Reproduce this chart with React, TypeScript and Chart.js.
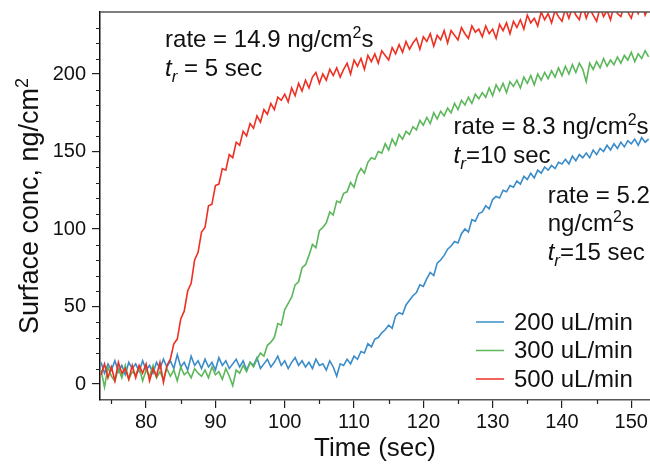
import React, { useEffect, useRef } from 'react';
import { Chart, registerables } from 'chart.js';

Chart.register(...registerables);

// ---- data ----
const T_START = 73.5;
const T_STEP = 0.5;
const SERIES_LABELS = ['200 uL/min', '300 uL/min', '500 uL/min'];
const X_TICKS = [80, 90, 100, 110, 120, 130, 140, 150];
const Y_TICKS = [0, 50, 100, 150, 200];
const X_MINOR = [75, 85, 95, 105, 115, 125, 135, 145];
const Y_MINOR = [10, 20, 30, 40, 60, 70, 80, 90, 110, 120, 130, 140, 160, 170, 180, 190, 210, 220, 230];

const BLUE_200 = [
  14, 7, 13, 9, 15, 8, 12, 6, 14, 10,
  13, 8, 15, 9, 12, 7, 14, 10, 16, 11,
  15, 10, 19, 11, 14, 9, 18, 12, 15, 10,
  16, 11, 14, 9, 17, 12, 15, 10, 13, 16,
  11, 15, 9, 14, 12, 17, 10, 13, 16, 11,
  14, 18, 12, 15, 10, 14, 17, 12, 15, 11,
  14, 10, 16, 12, 13, 9, 15, 11, 5, 13,
  12, 16, 13, 18, 16, 21, 20, 26, 24, 29,
  30, 33, 35, 38, 36, 44, 46, 45, 51, 54,
  57, 59, 64, 63, 68, 72, 70, 78, 80, 83,
  87, 89, 92, 91, 97, 100, 98, 106, 105, 110,
  111, 115, 113, 119, 121, 120, 125, 124, 128, 127,
  131, 129, 134, 132, 136, 133, 138, 136, 140, 138,
  141, 139, 143, 142, 145, 142, 147, 144, 148, 146,
  149, 146, 151, 148, 152, 150, 154, 151, 155, 152,
  156, 153, 157, 155, 158, 154, 159, 156, 158,
];

const GREEN_300 = [
  9, -2, 11, 5, 2, 10, 4, 12, 3, 8,
  6, 11, 2, 9, 5, 12, 4, 8, 3, 10,
  5, 9, 2, 11, 6, 8, 4, 10, 7, 5,
  9, 4, 11, 6, 8, 3, 10, 5, -1, 9,
  7, 12, 8, 14, 11, 16, 20, 18, 25, 27,
  30, 39, 38, 48, 52, 56, 64, 66, 75, 77,
  83, 90, 88, 99, 101, 104, 111, 109, 118, 117,
  123, 124, 130, 127, 135, 139, 136, 143, 146, 145,
  150, 149, 155, 151, 158, 154, 161, 158, 163, 161,
  166, 164, 170, 167, 172, 168, 175, 171, 176, 173,
  178, 175, 181, 177, 183, 180, 185, 181, 187, 184,
  188, 185, 191, 186, 193, 189, 194, 188, 195, 192,
  196, 191, 198, 194, 199, 193, 200, 196, 201, 197,
  202, 198, 204, 199, 205, 200, 206, 201, 207, 203,
  195, 207, 203, 208, 204, 210, 205, 209, 206, 211,
  207, 212, 209, 214, 208, 213, 210, 215, 211,
];

const RED_500 = [
  6, 13, 4, 11, 2, 14, 7, 10, 3, 12,
  4, 12, 7, 13, 2, 10, 5, 14, 1, 12,
  16, 26, 29, 42, 47, 60, 65, 80, 85, 98,
  101, 115, 116, 128, 129, 139, 138, 148, 146, 156,
  154, 163, 160, 168, 165, 173, 169, 177, 174, 181,
  177, 185, 183, 187, 182, 191, 186, 194, 189, 196,
  191, 198, 201, 194, 200, 196, 203, 199, 204, 198,
  203, 207, 200, 209, 205, 210, 203, 212, 208, 213,
  207, 215, 212, 209, 217, 213, 219, 214, 221, 216,
  220, 223, 216, 224, 221, 226, 218, 225, 222, 228,
  220, 228, 225, 222, 230, 226, 223, 231, 227, 229,
  224, 231, 226, 229, 223, 232, 228, 233, 226, 234,
  230, 235, 229, 238, 233, 236, 231, 240, 235, 239,
  233, 241, 237, 234, 242, 236, 243, 238, 235, 244,
  236, 242, 238, 234, 243, 237, 241, 235, 244, 239,
  237, 245, 240, 236, 244, 239, 246, 238, 243,
];

// ---- styling ----
const FONT = '"Liberation Sans", Arial, Helvetica, sans-serif';
const COLORS = ['#3a8cc9', '#5bb75a', '#ee3023'];
const X_MIN = 73.35;
const X_MAX = 152.7;
const Y_MIN = -10.3;
const Y_MAX = 240;

type Seg = { t: string; k?: 'i' | 'sup' | 'sub' };

const ANNOTATIONS: { x: number; y: number; lines: Seg[][] }[] = [
  {
    x: 82.74, y: 217.4,
    lines: [
      [{ t: 'rate = 14.9 ng/cm' }, { t: '2', k: 'sup' }, { t: 's' }],
      [{ t: 't', k: 'i' }, { t: 'r', k: 'sub' }, { t: ' = 5 sec' }],
    ],
  },
  {
    x: 124.36, y: 161,
    lines: [
      [{ t: 'rate = 8.3 ng/cm' }, { t: '2', k: 'sup' }, { t: 's' }],
      [{ t: 't', k: 'i' }, { t: 'r', k: 'sub' }, { t: '=10 sec' }],
    ],
  },
  {
    x: 137.94, y: 117.1,
    lines: [
      [{ t: 'rate = 5.2' }],
      [{ t: 'ng/cm' }, { t: '2', k: 'sup' }, { t: 's' }],
      [{ t: 't', k: 'i' }, { t: 'r', k: 'sub' }, { t: '=15 sec' }],
    ],
  },
];

function segFont(k: Seg['k'], size: number) {
  if (k === 'sup') return { font: `${Math.round(size * 0.68)}px ${FONT}`, dy: -size * 0.38 };
  if (k === 'sub') return { font: `italic ${Math.round(size * 0.7)}px ${FONT}`, dy: size * 0.25 };
  if (k === 'i') return { font: `italic ${size}px ${FONT}`, dy: 0 };
  return { font: `${size}px ${FONT}`, dy: 0 };
}

function richWidth(ctx: CanvasRenderingContext2D, segs: Seg[], size: number) {
  let w = 0;
  for (const s of segs) {
    ctx.font = segFont(s.k, size).font;
    w += ctx.measureText(s.t).width;
  }
  return w;
}

function drawRich(ctx: CanvasRenderingContext2D, segs: Seg[], x: number, y: number, size: number) {
  let cx = x;
  for (const s of segs) {
    const f = segFont(s.k, size);
    ctx.font = f.font;
    ctx.fillText(s.t, cx, y + f.dy);
    cx += ctx.measureText(s.t).width;
  }
}

const decorPlugin = {
  id: 'decor',
  afterDraw(chart: any) {
    const ctx: CanvasRenderingContext2D = chart.ctx;
    const area = chart.chartArea;
    const xs = chart.scales.x;
    const ys = chart.scales.y;
    ctx.save();
    // top border
    ctx.strokeStyle = '#555';
    ctx.lineWidth = 1.5;
    ctx.beginPath();
    ctx.moveTo(area.left, area.top);
    ctx.lineTo(area.right, area.top);
    ctx.stroke();
    // minor ticks
    ctx.strokeStyle = '#222';
    ctx.lineWidth = 1.2;
    ctx.beginPath();
    for (const v of X_MINOR) {
      const px = Math.round(xs.getPixelForValue(v)) + 0.5;
      ctx.moveTo(px, area.bottom);
      ctx.lineTo(px, area.bottom + 4);
    }
    for (const v of Y_MINOR) {
      const py = Math.round(ys.getPixelForValue(v)) + 0.5;
      ctx.moveTo(area.left, py);
      ctx.lineTo(area.left - 4, py);
    }
    ctx.stroke();

    // annotations
    ctx.fillStyle = '#111';
    ctx.textBaseline = 'alphabetic';
    ctx.textAlign = 'left';
    for (const a of ANNOTATIONS) {
      const px = xs.getPixelForValue(a.x);
      const py = ys.getPixelForValue(a.y);
      a.lines.forEach((line, i) => drawRich(ctx, line, px, py + i * 28.5, 24));
    }

    // legend
    const lx = area.right - 174;
    const ly = area.bottom - 78;
    SERIES_LABELS.forEach((lab, i) => {
      const y = ly + i * 28.5;
      ctx.strokeStyle = COLORS[i];
      ctx.lineWidth = 1.5;
      ctx.beginPath();
      ctx.moveTo(lx, y);
      ctx.lineTo(lx + 28, y);
      ctx.stroke();
      ctx.fillStyle = '#111';
      ctx.font = `24px ${FONT}`;
      ctx.textBaseline = 'middle';
      ctx.fillText(lab, lx + 38, y + 1);
    });

    // y title
    const title: Seg[] = [{ t: 'Surface conc, ng/cm' }, { t: '2', k: 'sup' }];
    const size = 27;
    const w = richWidth(ctx, title, size);
    ctx.translate(38, (area.top + area.bottom) / 2);
    ctx.rotate(-Math.PI / 2);
    ctx.textBaseline = 'alphabetic';
    ctx.fillStyle = '#111';
    drawRich(ctx, title, -w / 2, 0, size);
    ctx.restore();
  },
};

const noPad = (s: any) => {
  s.paddingTop = 0;
  s.paddingBottom = 0;
  s.paddingLeft = 0;
  s.paddingRight = 0;
};

export default function App() {
  const ref = useRef<HTMLCanvasElement | null>(null);
  useEffect(() => {
    if (!ref.current) return;
    const mk = (arr: number[]) => arr.map((v, i) => ({ x: T_START + i * T_STEP, y: v }));
    const chart = new Chart(ref.current, {
      type: 'line',
      data: {
        datasets: [
          { label: SERIES_LABELS[0], data: mk(BLUE_200), borderColor: COLORS[0], borderWidth: 1.6, pointRadius: 0, tension: 0, order: 3 },
          { label: SERIES_LABELS[1], data: mk(GREEN_300), borderColor: COLORS[1], borderWidth: 1.6, pointRadius: 0, tension: 0, order: 2 },
          { label: SERIES_LABELS[2], data: mk(RED_500), borderColor: COLORS[2], borderWidth: 1.6, pointRadius: 0, tension: 0, order: 1 },
        ],
      },
      options: {
        responsive: false,
        devicePixelRatio: 1,
        animation: false,
        layout: { padding: { top: 12, right: 0, left: 0, bottom: 0 } },
        plugins: { legend: { display: false }, tooltip: { enabled: false } },
        scales: {
          x: {
            type: 'linear',
            min: X_MIN,
            max: X_MAX,
            afterBuildTicks: (s: any) => { s.ticks = X_TICKS.map((v) => ({ value: v })); },
            afterFit: (s: any) => { s.height = 64; noPad(s); },
            ticks: { font: { size: 20, family: FONT }, color: '#111', maxRotation: 0, autoSkip: false, padding: 2 },
            grid: { drawOnChartArea: false, drawTicks: true, tickLength: 8, color: '#222', lineWidth: 1.2 },
            border: { display: true, color: '#555', width: 1.5 },
            title: { display: true, text: 'Time (sec)', font: { size: 26, family: FONT }, color: '#111', padding: { top: 0, bottom: 0 } },
          },
          y: {
            type: 'linear',
            min: Y_MIN,
            max: Y_MAX,
            afterBuildTicks: (s: any) => { s.ticks = Y_TICKS.map((v) => ({ value: v })); },
            afterFit: (s: any) => { s.width = 100; noPad(s); },
            ticks: { font: { size: 20, family: FONT }, color: '#111', padding: 6 },
            grid: { drawOnChartArea: false, drawTicks: true, tickLength: 8, color: '#222', lineWidth: 1.2 },
            border: { display: true, color: '#111', width: 1.5 },
          },
        },
      },
      plugins: [decorPlugin],
    } as any);
    return () => chart.destroy();
  }, []);
  return (
    <div style={{ position: 'fixed', left: 0, top: 0, width: 650, height: 464, background: '#fff' }}>
      <canvas ref={ref} width={650} height={464} style={{ display: 'block' }} />
    </div>
  );
}
